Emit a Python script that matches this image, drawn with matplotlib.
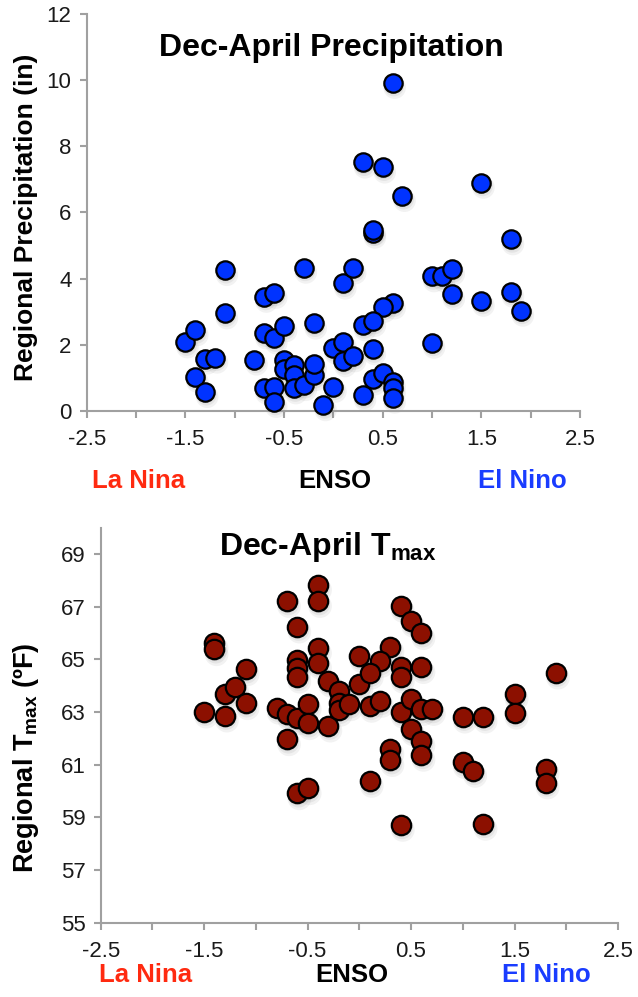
import matplotlib
matplotlib.use("Agg")
import matplotlib.pyplot as plt
import matplotlib.transforms as mtransforms
from matplotlib.ticker import MultipleLocator
import numpy as np

plt.rcParams['font.family'] = ['Liberation Sans', 'DejaVu Sans']
plt.rcParams['mathtext.fontset'] = 'custom'
plt.rcParams['mathtext.rm'] = 'Liberation Sans'
plt.rcParams['mathtext.bf'] = 'Liberation Sans:bold'

# ENSO index vs Dec-April regional precipitation (in)
enso_p = [-1.5, -1.4, -1.4, -1.3, -1.2, -1.3, -1.1, -1.1, -0.8, -0.7,
          -0.6, -0.7, -0.6, -0.5, -0.7, -0.6, -0.6, -0.5, -0.5, -0.4,
          -0.4, -0.4, -0.3, -0.2, -0.2, -0.3, -0.2, -0.1, 0.0, 0.0,
          0.1, 0.1, 0.1, 0.2, 0.2, 0.3, 0.3, 0.4, 0.4, 0.6,
          0.3, 0.5, 0.7, 1.5, 1.8, 1.0, 1.1, 1.2, 1.2, 1.5,
          1.8, 1.9, 1.0, 0.6, 0.5, 0.4, 0.4, 0.4, 0.5, 0.6,
          0.6, 0.6]
precip = [2.07, 2.44, 1.03, 1.58, 1.61, 0.57, 4.26, 2.95, 1.55, 3.45,
          3.57, 2.34, 2.19, 2.56, 0.68, 0.73, 0.27, 1.55, 1.25, 1.38,
          1.08, 0.68, 0.78, 1.08, 1.41, 4.33, 2.64, 0.17, 0.73, 1.89,
          2.09, 1.50, 3.85, 4.31, 1.65, 0.47, 2.59, 5.39, 5.48, 9.92,
          7.51, 7.36, 6.50, 6.90, 5.19, 4.07, 4.07, 4.28, 3.53, 3.33,
          3.60, 3.03, 2.06, 3.25, 3.15, 2.72, 1.86, 0.95, 1.13, 0.88,
          0.68, 0.40]

# ENSO index vs Dec-April regional Tmax (F)
enso_t = [-1.5, -1.4, -1.4, -1.3, -1.3, -1.2, -1.1, -1.1, -0.8, -0.7,
          -0.7, -0.7, -0.6, -0.6, -0.6, -0.6, -0.6, -0.5, -0.5, -0.6,
          -0.5, -0.4, -0.4, -0.4, -0.4, -0.3, -0.3, -0.2, -0.2, -0.2,
          -0.1, 0.0, 0.0, 0.1, 0.4, 0.5, 0.6, 0.3, 0.2, 0.1,
          0.4, 0.4, 0.6, 0.1, 0.2, 0.4, 0.5, 0.6, 0.7, 0.5,
          0.6, 0.6, 0.3, 0.3, 0.4, 1.2, 1.0, 1.2, 1.5, 1.5,
          1.9, 1.0, 1.1, 1.8, 1.8]
tmax = [63.01, 65.61, 65.38, 63.68, 62.86, 63.96, 64.62, 63.33, 63.16, 67.21,
        62.92, 61.96, 66.24, 64.97, 64.66, 64.34, 62.76, 63.29, 62.57, 59.91,
        60.10, 67.82, 67.21, 65.42, 64.87, 64.19, 62.48, 63.80, 63.35, 63.08,
        63.29, 65.13, 64.06, 60.38, 67.03, 66.46, 65.99, 65.48, 64.94, 64.49,
        64.72, 64.34, 64.70, 63.23, 63.42, 63.01, 63.48, 63.11, 63.11, 62.34,
        61.91, 61.37, 61.59, 61.17, 58.71, 58.75, 62.82, 62.82, 63.68, 62.97,
        64.49, 61.09, 60.76, 60.85, 60.32]

x_ticks = [-2.5, -1.5, -0.5, 0.5, 1.5, 2.5]
phase_labels = ['La Nina', 'ENSO', 'El Nino']
phase_colors = ['#ff2a10', '#000000', '#1a3cff']

W, H = 638, 997
fig = plt.figure(figsize=(W / 100, H / 100), dpi=100)
ax1 = fig.add_axes([0.1359, 0.588, 0.7732, 0.3979])
ax2 = fig.add_axes([0.1578, 0.0745, 0.8108, 0.3962])


def dot_plot(ax, x, y, color, size):
    # soft drop shadow under each dot
    for dx, dy, a, grow in [(1.5, -3.5, 0.10, 1.5), (1.0, -2.5, 0.12, 1.2), (0.5, -1.5, 0.15, 1.0)]:
        tr = mtransforms.offset_copy(ax.transData, fig=fig, x=dx, y=dy, units='points')
        ax.scatter(x, y, s=size * grow, color='#808080', alpha=a,
                   edgecolors='none', transform=tr, zorder=2, clip_on=False)
    ax.scatter(x, y, s=size, color=color, edgecolors='black',
               linewidths=1.6, zorder=3, clip_on=False)


def style_axes(ax):
    for side in ['top', 'right']:
        ax.spines[side].set_visible(False)
    for side in ['left', 'bottom']:
        ax.spines[side].set_color('#a0a0a0')
        ax.spines[side].set_linewidth(1.5)
    ax.set_xlim(-2.5, 2.5)
    ax.set_xticks(x_ticks)
    ax.set_xticklabels([f'{t:g}' for t in x_ticks])
    ax.xaxis.set_minor_locator(MultipleLocator(0.5))
    ax.tick_params(which='both', direction='out', length=5, width=1.5,
                   color='#a0a0a0', labelsize=16, labelcolor='#1a1a1a')
    ax.tick_params(axis='x', pad=8)
    ax.tick_params(axis='y', pad=6)


dot_plot(ax1, enso_p, precip, '#0033ff', 175)
style_axes(ax1)
ax1.set_ylim(0, 12)
ax1.set_yticks(np.arange(0, 13, 2))
ax1.text(0.495, 0.915, 'Dec-April Precipitation', transform=ax1.transAxes,
         ha='center', va='center', fontsize=23, fontweight='bold')

dot_plot(ax2, enso_t, tmax, '#8c1000', 195)
style_axes(ax2)
ax2.set_ylim(55, 70)
ax2.set_yticks(np.arange(55, 70, 2))
ax2.text(0.44, 0.95, r'Dec-April T$_{\mathbf{max}}$', transform=ax2.transAxes,
         ha='center', va='center', fontsize=23, fontweight='bold')

# rotated axis titles
fig.text(26 / W, 1 - 217 / H, 'Regional Precipitation (in)', rotation=90,
         rotation_mode='anchor', ha='center', va='center', fontsize=19, fontweight='bold')
fig.text(26 / W, 1 - 758 / H, r'Regional T$_{\mathbf{max}}$ (ºF)', rotation=90,
         rotation_mode='anchor', ha='center', va='center', fontsize=19.5, fontweight='bold')

# ENSO phase captions under each x axis
for xs, yp in [([139, 335, 522], 481), ([146, 352, 546], 975)]:
    for xp, lab, col in zip(xs, phase_labels, phase_colors):
        fig.text(xp / W, 1 - yp / H, lab, ha='center', va='center',
                 fontsize=18.5, fontweight='bold', color=col)

fig.savefig('out.png', dpi=100)
